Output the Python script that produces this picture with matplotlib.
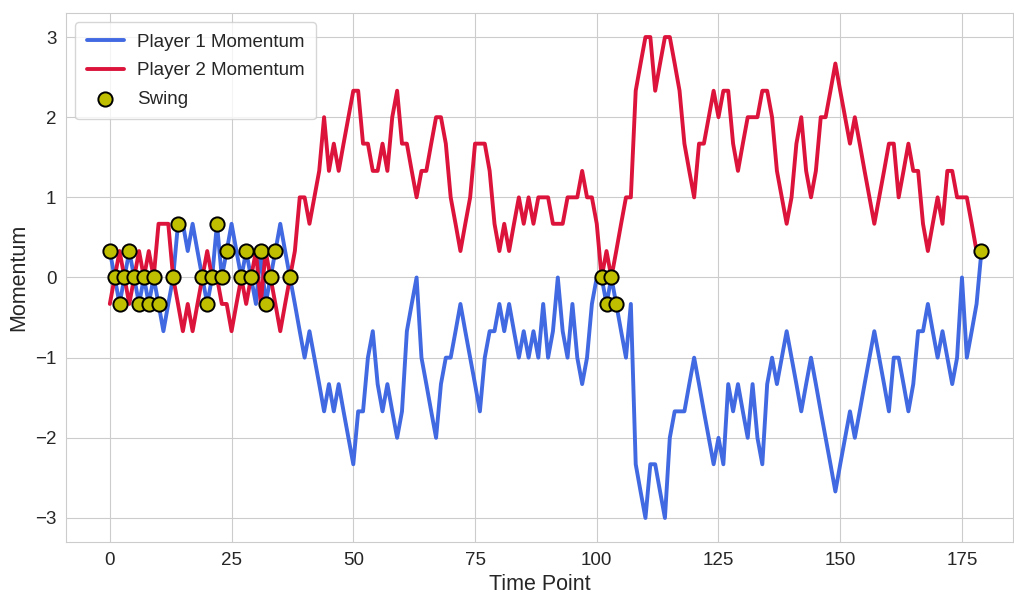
import matplotlib
matplotlib.use("Agg")
import matplotlib.pyplot as plt
import seaborn as sns

# momentum values per point (steps of 1/3)
p1_momentum = [
    0.33, 0, -0.33, 0, 0.33, 0, -0.33, 0, -0.33, 0,
    -0.33, -0.67, -0.33, 0, 0.67, 0.67, 0.33, 0.67, 0.33, 0,
    -0.33, 0, 0.67, 0, 0.33, 0.67, 0.33, 0, 0.33, 0,
    -0.33, 0.33, -0.33, 0, 0.33, 0.67, 0.33, 0, -0.33, -0.67,
    -1.0, -0.67, -1.0, -1.33, -1.67, -1.33, -1.67, -1.33, -1.67, -2.0,
    -2.33, -1.67, -1.67, -1.0, -0.67, -1.33, -1.67, -1.33, -1.67, -2.0,
    -1.67, -0.67, -0.33, 0, -1.0, -1.33, -1.67, -2.0, -1.33, -1.0,
    -1.0, -0.67, -0.33, -0.67, -1.0, -1.33, -1.67, -1.0, -0.67, -0.67,
    -0.33, -0.67, -0.33, -0.67, -1.0, -0.67, -1.0, -0.67, -1.0, -0.33,
    -1.0, -0.67, 0, -0.67, -1.0, -0.33, -1.0, -1.33, -1.0, -0.33,
    0, 0, -0.33, 0, -0.33, -0.67, -1.0, -0.33, -2.33, -2.67,
    -3.0, -2.33, -2.33, -2.67, -3.0, -2.0, -1.67, -1.67, -1.67, -1.33,
    -1.0, -1.33, -1.67, -2.0, -2.33, -2.0, -2.33, -1.33, -1.67, -1.33,
    -1.67, -2.0, -1.33, -2.0, -2.33, -1.33, -1.0, -1.33, -1.0, -0.67,
    -1.0, -1.33, -1.67, -1.33, -1.0, -1.33, -1.67, -2.0, -2.33, -2.67,
    -2.33, -2.0, -1.67, -2.0, -1.67, -1.33, -1.0, -0.67, -1.0, -1.33,
    -1.67, -1.0, -1.0, -1.33, -1.67, -1.33, -0.67, -0.67, -0.33, -0.67,
    -1.0, -0.67, -1.0, -1.33, -1.0, 0, -1.0, -0.67, -0.33, 0.33,
]

p2_momentum = [
    -0.33, 0, 0.33, 0, -0.33, 0, 0.33, 0, 0.33, 0,
    0.67, 0.67, 0.67, 0, -0.33, -0.67, -0.33, -0.67, -0.33, 0,
    0.33, 0, 0, -0.33, -0.33, -0.67, -0.33, 0, -0.33, 0,
    0.33, -0.33, 0.33, 0, -0.33, -0.67, -0.33, 0, 0.33, 1.0,
    1.0, 0.67, 1.0, 1.33, 2.0, 1.33, 1.67, 1.33, 1.67, 2.0,
    2.33, 2.33, 1.67, 1.67, 1.33, 1.33, 1.67, 1.33, 2.0, 2.33,
    1.67, 1.67, 1.33, 1.0, 1.33, 1.33, 1.67, 2.0, 2.0, 1.67,
    1.0, 0.67, 0.33, 0.67, 1.0, 1.67, 1.67, 1.67, 1.33, 0.67,
    0.33, 0.67, 0.33, 0.67, 1.0, 0.67, 1.0, 0.67, 1.0, 1.0,
    1.0, 0.67, 0.67, 0.67, 1.0, 1.0, 1.0, 1.33, 1.0, 1.0,
    0.67, 0, 0.33, 0, 0.33, 0.67, 1.0, 1.0, 2.33, 2.67,
    3.0, 3.0, 2.33, 2.67, 3.0, 3.0, 2.67, 2.33, 1.67, 1.33,
    1.0, 1.67, 1.67, 2.0, 2.33, 2.0, 2.33, 2.33, 1.67, 1.33,
    1.67, 2.0, 2.0, 2.0, 2.33, 2.33, 2.0, 1.33, 1.0, 0.67,
    1.0, 1.67, 2.0, 1.33, 1.0, 1.33, 2.0, 2.0, 2.33, 2.67,
    2.33, 2.0, 1.67, 2.0, 1.67, 1.33, 1.0, 0.67, 1.0, 1.33,
    1.67, 1.67, 1.0, 1.33, 1.67, 1.33, 1.33, 0.67, 0.33, 0.67,
    1.0, 0.67, 1.33, 1.33, 1.0, 1.0, 1.0, 0.67, 0.33, 0.33,
]

# points where a swing was flagged
swing_points = [0, 1, 2, 3, 4, 5, 6, 7, 8, 9, 10, 13, 14, 19, 20, 21, 22, 23,
                24, 27, 28, 29, 31, 32, 33, 34, 37, 101, 102, 103, 104, 179]

time_points = list(range(len(p1_momentum)))
swing_values = [p1_momentum[i] for i in swing_points]

sns.set_style("whitegrid")
plt.rcParams['font.family'] = ['Liberation Sans', 'DejaVu Sans']

fig = plt.figure(figsize=(10.14, 5.96), dpi=100)
ax = fig.add_axes([0.0651, 0.0906, 0.934, 0.8876])

ax.plot(time_points, p1_momentum, color='royalblue', linewidth=2.8, label='Player 1 Momentum')
ax.plot(time_points, p2_momentum, color='crimson', linewidth=2.8, label='Player 2 Momentum')
ax.scatter(swing_points, swing_values, s=105, color='y', edgecolor='black',
           linewidth=1.4, zorder=5, label='Swing')

ax.set_xlim(-9.0, 185.5)
ax.set_ylim(-3.3, 3.3)
ax.set_xlabel("Time Point", fontsize=15.5)
ax.set_ylabel("Momentum", fontsize=15.5)
ax.tick_params(labelsize=13.5)
ax.legend(loc='upper left', fontsize=13.5, labelspacing=0.62, handlelength=2.0,
          handletextpad=0.7, borderpad=0.6)

fig.savefig("out.png", dpi=100)
